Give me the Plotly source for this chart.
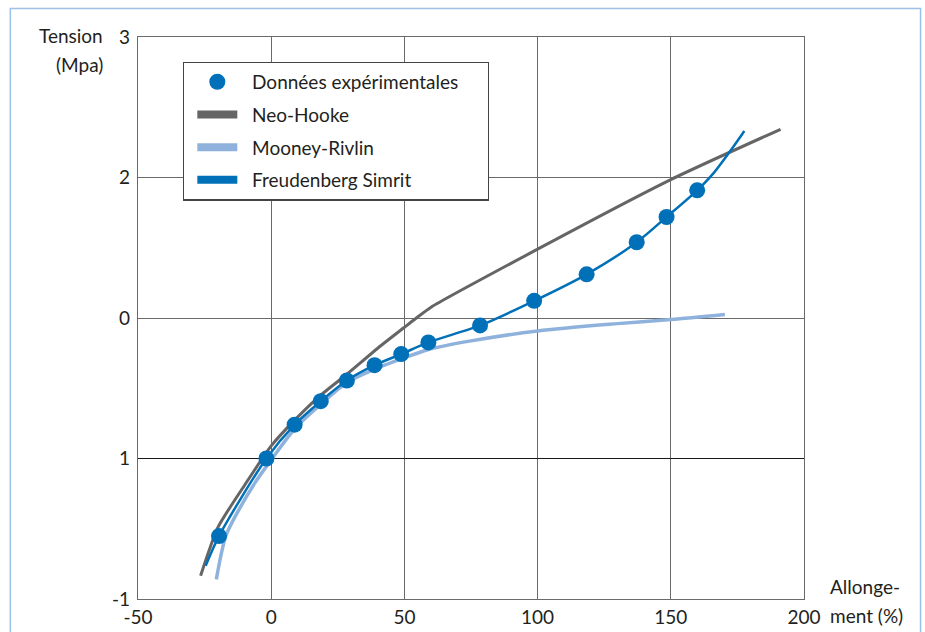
import plotly.graph_objects as go

# Experimental data (Données expérimentales)
exp_x = [-19.6, -1.8, 8.8, 18.6, 28.4, 38.8, 48.8, 59.0, 78.4, 98.7, 118.4, 137.2, 148.4, 159.9]
exp_y = [-0.552, 0.0, 0.241, 0.408, 0.555, 0.664, 0.743, 0.826, 0.947, 1.122, 1.311, 1.539, 1.719, 1.909]

# Neo-Hooke model
neo_x = [-26.5, -20, -10, 0, 8.8, 18.6, 28.4, 40, 49.9, 54.5, 60, 100, 150, 191.2]
neo_y = [-0.834, -0.49, -0.19, 0.09, 0.273, 0.451, 0.600, 0.785, 0.932, 1.0, 1.077, 1.49, 1.985, 2.343]

# Mooney-Rivlin model
moo_x = [-20.6, -17, -12, -6, 0, 9, 18.6, 28.4, 38.8, 50, 59, 75, 100, 130, 150, 170.3]
moo_y = [-0.86, -0.55, -0.36, -0.17, -0.01, 0.215, 0.385, 0.54, 0.635, 0.716, 0.776, 0.837, 0.908, 0.96, 0.989, 1.025]

# Freudenberg Simrit model
fre_x = [-24.6, -19.6, -1.8, 8.8, 18.6, 28.4, 38.8, 48.8, 59.0, 78.4, 98.7, 118.4, 137.2, 148.4, 159.9, 165.9, 173.4, 177.6]
fre_y = [-0.763, -0.552, 0.0, 0.241, 0.408, 0.555, 0.664, 0.743, 0.826, 0.947, 1.122, 1.311, 1.539, 1.719, 1.909, 2.028, 2.217, 2.331]

# Axis ticks
x_ticks = [-50, 0, 50, 100, 150, 200]
x_ticktext = ["-50", "0", "50", "100", "150", "200"]
y_ticks = [-1, 0, 1, 2, 3]
y_ticktext = ["-1", "1", "0", "2", "3"]

C_NEO = "#656565"
C_MOO = "#8fb2dd"
C_FRE = "#0070b8"
FONT = "Lato"
TXT = "#231f20"
FS = 19

fig = go.Figure()

fig.add_trace(go.Scatter(x=neo_x, y=neo_y, mode="lines", showlegend=False,
                         line=dict(color=C_NEO, width=3, shape="spline", smoothing=0.6)))
fig.add_trace(go.Scatter(x=moo_x, y=moo_y, mode="lines", showlegend=False,
                         line=dict(color=C_MOO, width=3.5, shape="spline", smoothing=0.8)))
fig.add_trace(go.Scatter(x=fre_x, y=fre_y, mode="lines", showlegend=False,
                         line=dict(color=C_FRE, width=2.5, shape="spline", smoothing=0.8)))
fig.add_trace(go.Scatter(x=exp_x, y=exp_y, mode="markers", showlegend=False,
                         marker=dict(color=C_FRE, size=16)))

# legend entries
lead = "\u00a0" * 2
pad = "\u00a0" * 5
fig.add_trace(go.Scatter(x=[None], y=[None], mode="markers", name=lead + "Données expérimentales" + pad,
                         legendgroup="a", marker=dict(color=C_FRE, size=16)))
fig.add_trace(go.Scatter(x=[None], y=[None], mode="lines", name=lead + "Neo-Hooke", legendgroup="b",
                         line=dict(color=C_NEO, width=8)))
fig.add_trace(go.Scatter(x=[None], y=[None], mode="lines", name=lead + "Mooney-Rivlin", legendgroup="c",
                         line=dict(color=C_MOO, width=8)))
fig.add_trace(go.Scatter(x=[None], y=[None], mode="lines", name=lead + "Freudenberg Simrit", legendgroup="d",
                         line=dict(color=C_FRE, width=8)))

axis_common = dict(showline=True, mirror=True, linecolor="#6a6a6a", linewidth=1.3,
                   showgrid=True, gridcolor="#6a6a6a", gridwidth=1.3, ticks="",
                   automargin=False,
                   tickfont=dict(family=FONT, size=FS, color=TXT))

fig.update_xaxes(range=[-50, 200], tickvals=x_ticks, ticktext=x_ticktext,
                 zeroline=False, ticklabelstandoff=1, **axis_common)
fig.update_yaxes(range=[-1, 3], tickvals=y_ticks, ticktext=y_ticktext,
                 zeroline=True, zerolinecolor="#1a1a1a", zerolinewidth=1.3,
                 ticklabelstandoff=3, **axis_common)

PX0, PXW, PY0, PYH = 138.3, 665.7, 599.0, 562.3


def px(xp):
    return (xp - PX0) / PXW


def py(yp):
    return (PY0 - yp) / PYH


ann_font = dict(family=FONT, size=FS, color=TXT)
fig.update_layout(
    width=925, height=632,
    margin=dict(l=138, r=121, t=37, b=33),
    paper_bgcolor="white", plot_bgcolor="white",
    font=dict(family=FONT, size=FS, color=TXT),
    legend=dict(x=px(183.3), y=py(61.3), xanchor="left", yanchor="top",
                bgcolor="white", bordercolor="#444444", borderwidth=1.3,
                font=dict(family=FONT, size=FS, color=TXT),
                traceorder="grouped", tracegroupgap=5, itemwidth=40, indentation=8),
    annotations=[
        dict(text="Tension", xref="paper", yref="paper", x=px(105.5), y=py(35),
             xanchor="right", yanchor="middle", showarrow=False, font=ann_font),
        dict(text="(Mpa)", xref="paper", yref="paper", x=px(105.5), y=py(64.5),
             xanchor="right", yanchor="middle", showarrow=False, font=ann_font),
        dict(text="Allonge-", xref="paper", yref="paper", x=px(827.5), y=py(586),
             xanchor="left", yanchor="middle", showarrow=False, font=ann_font),
        dict(text="ment (%)", xref="paper", yref="paper", x=px(827.5), y=py(616),
             xanchor="left", yanchor="middle", showarrow=False, font=ann_font),
    ],
    shapes=[
        dict(type="rect", xref="paper", yref="paper",
             x0=px(10.7), x1=px(920.5), y0=py(700), y1=py(8.3),
             line=dict(color="#9cc0e6", width=1.5), fillcolor="rgba(0,0,0,0)", layer="below"),
    ],
)

fig.write_html("out.html", config={"displayModeBar": False},
               post_script="document.body.style.margin='0';document.body.style.overflow='hidden';")
